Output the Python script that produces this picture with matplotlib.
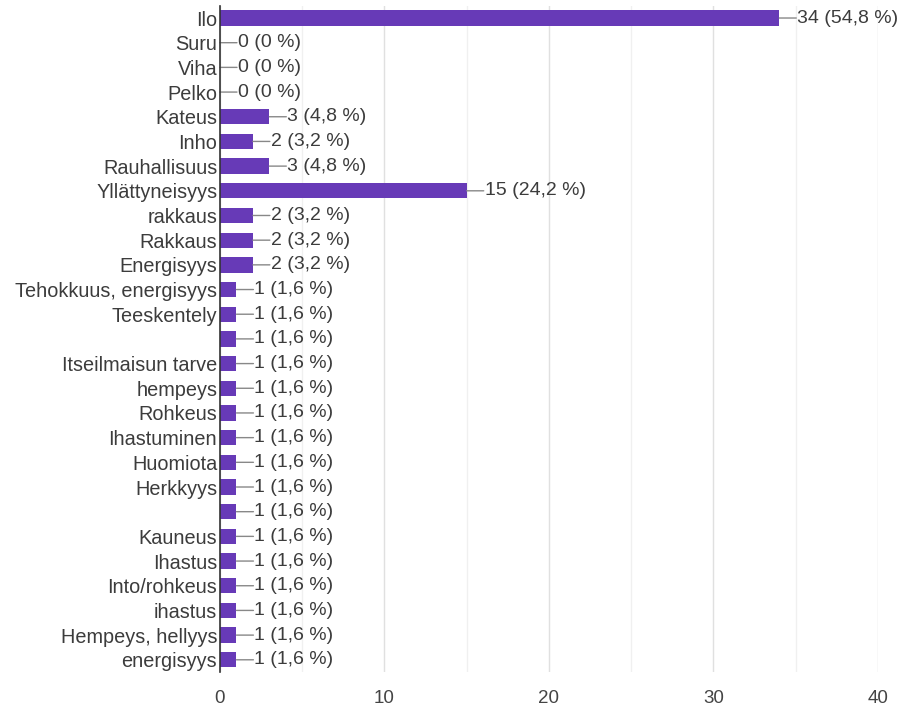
import matplotlib.pyplot as plt
from matplotlib.ticker import MultipleLocator

plt.rcParams['font.family'] = ['Liberation Sans', 'DejaVu Sans']

# answers, top to bottom as in the form summary
labels = ["Ilo", "Suru", "Viha", "Pelko", "Kateus", "Inho", "Rauhallisuus",
          "Yllättyneisyys", "rakkaus", "Rakkaus", "Energisyys",
          "Tehokkuus, energisyys", "Teeskentely", "", "Itseilmaisun tarve",
          "hempeys", "Rohkeus", "Ihastuminen", "Huomiota", "Herkkyys", "",
          "Kauneus", "Ihastus", "Into/rohkeus", "ihastus", "Hempeys, hellyys",
          "energisyys"]
counts = [34, 0, 0, 0, 3, 2, 3, 15, 2, 2, 2, 1, 1, 1, 1, 1, 1, 1, 1, 1, 1,
          1, 1, 1, 1, 1, 1]
percents = ["54,8", "0", "0", "0", "4,8", "3,2", "4,8", "24,2", "3,2", "3,2",
            "3,2", "1,6", "1,6", "1,6", "1,6", "1,6", "1,6", "1,6", "1,6",
            "1,6", "1,6", "1,6", "1,6", "1,6", "1,6", "1,6", "1,6"]
xticks = [0, 10, 20, 30, 40]

purple = "#673ab7"
text_col = "#3c3c3c"

fig = plt.figure(figsize=(9.03, 7.09), dpi=100)
ax = fig.add_axes([0.2436, 0.052, 0.7287, 0.94])

ypos = list(range(len(labels)))
ax.barh(ypos, counts, height=0.62, color=purple, zorder=3)

for y, c, p in zip(ypos, counts, percents):
    # short leader line then the value text
    ax.annotate("", xy=(c, y), xytext=(17, 0), textcoords="offset pixels",
                arrowprops=dict(arrowstyle="-", color="#888888", lw=1,
                                shrinkA=0, shrinkB=0), zorder=4)
    ax.annotate(f"{c} ({p} %)", xy=(c, y), xytext=(18, 0),
                textcoords="offset pixels", va="center", ha="left",
                fontsize=14, color=text_col, zorder=4)

ax.set_ylim(len(labels) - 0.5, -0.5)
ax.set_xlim(0, 40)
ax.set_yticks(ypos)
ax.set_yticklabels(labels, fontsize=14.3, color=text_col)
ax.set_xticks(xticks)
ax.set_xticklabels([str(t) for t in xticks], fontsize=13.5, color="#444444")
ax.xaxis.set_minor_locator(MultipleLocator(5))
ax.tick_params(axis="both", which="both", length=0)
ax.tick_params(axis="x", pad=13)
ax.tick_params(axis="y", pad=2)

ax.grid(axis="x", which="major", color="#e0e0e0", lw=1, zorder=0)
ax.grid(axis="x", which="minor", color="#f0f0f0", lw=1, zorder=0)

for side in ["top", "right", "bottom"]:
    ax.spines[side].set_visible(False)
ax.spines["left"].set_color("#333333")
ax.spines["left"].set_linewidth(1.2)
ax.spines["left"].set_zorder(5)

fig.savefig("out.png", dpi=100)
